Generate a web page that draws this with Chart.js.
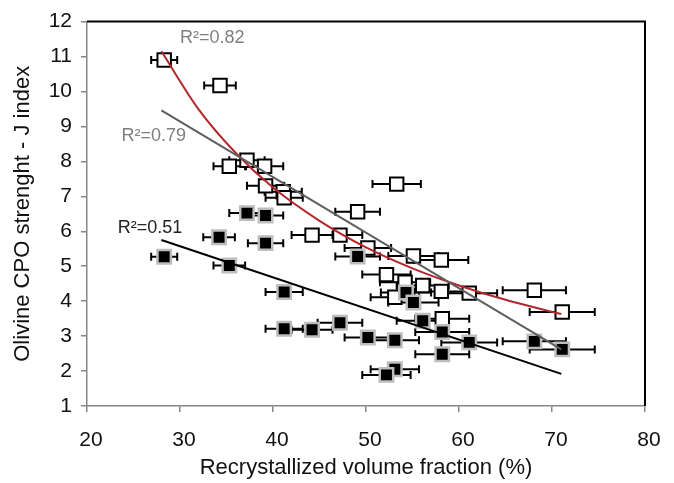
<!DOCTYPE html>
<html>
<head>
<meta charset="utf-8">
<script src="https://cdn.jsdelivr.net/npm/chart.js@4.4.1/dist/chart.umd.min.js"></script>
<style>
  html, body { margin: 0; padding: 0; background: #fff; }
  #wrap { width: 674px; height: 483px; }
</style>
</head>
<body>
<div id="wrap"><canvas id="canvas-cpo" width="674" height="483"></canvas></div>
<script>
// open squares
const openX = [28.3, 34.3, 35.3, 37.2, 39.1, 39.2, 41.1, 41.2, 44.2, 47.2, 49.1, 53.3, 50.2, 55.1, 58.1, 52.2, 54.2, 56.1, 58.1, 53.1, 61.1, 68.1, 71.1, 58.2];
const openY = [10.9, 10.17, 7.86, 8.03, 7.86, 7.3, 7.13, 6.96, 5.89, 5.89, 6.56, 7.35, 5.52, 5.29, 5.18, 4.76, 4.54, 4.45, 4.28, 4.11, 4.23, 4.31, 3.69, 3.5];
const openErr = [1.4, 1.7, 1.7, 1.9, 2.0, 2.0, 2.0, 2.0, 2.2, 2.4, 2.4, 2.6, 2.5, 2.7, 2.9, 2.6, 2.7, 2.8, 2.9, 2.6, 3.0, 3.4, 3.5, 2.9];

// filled squares
const filledX = [28.3, 34.2, 35.3, 37.2, 39.2, 39.2, 41.2, 41.2, 44.2, 47.2, 49.1, 50.2, 53.1, 53.1, 52.2, 54.3, 55.1, 56.1, 58.2, 58.2, 61.1, 68.1, 71.1];
const filledY = [5.27, 5.83, 5.02, 6.52, 6.45, 5.66, 4.26, 3.21, 3.18, 3.38, 5.28, 2.96, 2.88, 2.05, 1.89, 4.25, 3.96, 3.44, 3.12, 2.48, 2.82, 2.85, 2.62];
const filledErr = [1.4, 1.7, 1.7, 1.9, 1.9, 1.9, 2.0, 2.0, 2.2, 2.4, 2.4, 2.5, 2.6, 2.6, 2.6, 2.7, 2.7, 2.8, 2.9, 2.9, 3.0, 3.4, 3.5];

// trend lines
const fitFilledX = [28, 71];
const fitFilledY = [5.75, 1.92];
const fitLinX = [28, 71];
const fitLinY = [9.46, 2.62];
const fitPowX = [28, 32, 36, 40, 45, 50, 55, 60, 65, 71];
const fitPowY = [11.15, 9.49, 8.24, 7.25, 6.30, 5.54, 4.94, 4.45, 4.04, 3.63];

const r2Texts = ["R²=0.82", "R²=0.79", "R²=0.51"];

const xTicks = [20, 30, 40, 50, 60, 70, 80];
const yTicks = [1, 2, 3, 4, 5, 6, 7, 8, 9, 10, 11, 12];

const FONT = "'Liberation Sans', Arial, sans-serif";

function toPoints(xs, ys) {
  return xs.map((x, i) => ({ x: x, y: ys[i] }));
}

// horizontal error bars, behind the markers
const errorBars = {
  id: "errorBars",
  beforeDatasetsDraw(chart) {
    const ctx = chart.ctx;
    const xs = chart.scales.x;
    const ys = chart.scales.y;
    const sets = [[openX, openY, openErr], [filledX, filledY, filledErr]];
    ctx.save();
    ctx.strokeStyle = "#000";
    ctx.lineWidth = 2;
    sets.forEach(([X, Y, E]) => {
      X.forEach((x, i) => {
        const py = ys.getPixelForValue(Y[i]);
        const x1 = xs.getPixelForValue(x - E[i]);
        const x2 = xs.getPixelForValue(x + E[i]);
        ctx.beginPath();
        ctx.moveTo(x1, py);
        ctx.lineTo(x2, py);
        ctx.moveTo(x1, py - 4);
        ctx.lineTo(x1, py + 4);
        ctx.moveTo(x2, py - 4);
        ctx.lineTo(x2, py + 4);
        ctx.stroke();
      });
    });
    ctx.restore();
  },
};

const frameAndLabels = {
  id: "frameAndLabels",
  afterDraw(chart) {
    const ctx = chart.ctx;
    const a = chart.chartArea;
    const xs = chart.scales.x;
    const ys = chart.scales.y;
    ctx.save();
    ctx.strokeStyle = "#000";
    ctx.lineWidth = 2;
    ctx.beginPath();
    ctx.moveTo(a.left, a.top);
    ctx.lineTo(a.right, a.top);
    ctx.lineTo(a.right, a.bottom);
    ctx.stroke();

    ctx.font = "18px " + FONT;
    ctx.textBaseline = "middle";
    ctx.textAlign = "left";
    const spots = [
      [30.0, 11.52, "#7f7f7f"],
      [23.7, 8.73, "#7f7f7f"],
      [23.3, 6.08, "#222"],
    ];
    spots.forEach(([x, y, c], i) => {
      ctx.fillStyle = c;
      ctx.fillText(r2Texts[i], xs.getPixelForValue(x), ys.getPixelForValue(y));
    });
    ctx.restore();
  },
};

const data = {
  datasets: [
    {
      type: "line",
      data: toPoints(fitFilledX, fitFilledY),
      borderColor: "#000",
      borderWidth: 2,
      pointRadius: 0,
      fill: false,
    },
    {
      type: "line",
      data: toPoints(fitLinX, fitLinY),
      borderColor: "#5e5e5e",
      borderWidth: 2,
      pointRadius: 0,
      fill: false,
    },
    {
      type: "line",
      data: toPoints(fitPowX, fitPowY),
      borderColor: "#b3262b",
      borderWidth: 2,
      pointRadius: 0,
      cubicInterpolationMode: "monotone",
      fill: false,
    },
    {
      data: toPoints(filledX, filledY),
      pointStyle: "rect",
      pointRadius: 9.5,
      backgroundColor: "#000",
      borderColor: "#bdbdbd",
      borderWidth: 2.5,
    },
    {
      data: toPoints(openX, openY),
      pointStyle: "rect",
      pointRadius: 9.5,
      backgroundColor: "#fff",
      borderColor: "#000",
      borderWidth: 2,
    },
  ],
};

const config = {
  type: "scatter",
  data: data,
  options: {
    responsive: false,
    animation: false,
    layout: { padding: { top: 15, right: 29, left: 4, bottom: 0 } },
    plugins: { legend: { display: false }, tooltip: { enabled: false } },
    scales: {
      x: {
        type: "linear",
        min: 20,
        max: 80,
        afterBuildTicks: (s) => { s.ticks = xTicks.map((v) => ({ value: v })); },
        afterFit: (s) => { s.height = 77; },
        grid: { drawOnChartArea: false, drawTicks: true, tickLength: 6, color: "#868686", lineWidth: 1.5 },
        border: { color: "#868686", width: 1.5 },
        ticks: { color: "#111", font: { family: FONT, size: 21 }, padding: 16, labelOffset: 4 },
        title: {
          display: true,
          text: "Recrystallized volume fraction (%)",
          color: "#111",
          font: { family: FONT, size: 22 },
          padding: { top: 0, bottom: 2 },
        },
      },
      y: {
        type: "linear",
        min: 1,
        max: 12,
        afterBuildTicks: (s) => { s.ticks = yTicks.map((v) => ({ value: v })); },
        afterFit: (s) => { s.width = 83; },
        grid: { drawOnChartArea: false, drawTicks: true, tickLength: 6, color: "#868686", lineWidth: 1.5 },
        border: { color: "#868686", width: 1.5 },
        ticks: { color: "#111", font: { family: FONT, size: 21 }, padding: 9 },
        title: {
          display: true,
          text: "Olivine CPO strenght - J index",
          color: "#111",
          font: { family: FONT, size: 22 },
          padding: { top: 6, bottom: 0 },
        },
      },
    },
  },
  plugins: [errorBars, frameAndLabels],
};

new Chart(document.getElementById("canvas-cpo"), config);
</script>
</body>
</html>
